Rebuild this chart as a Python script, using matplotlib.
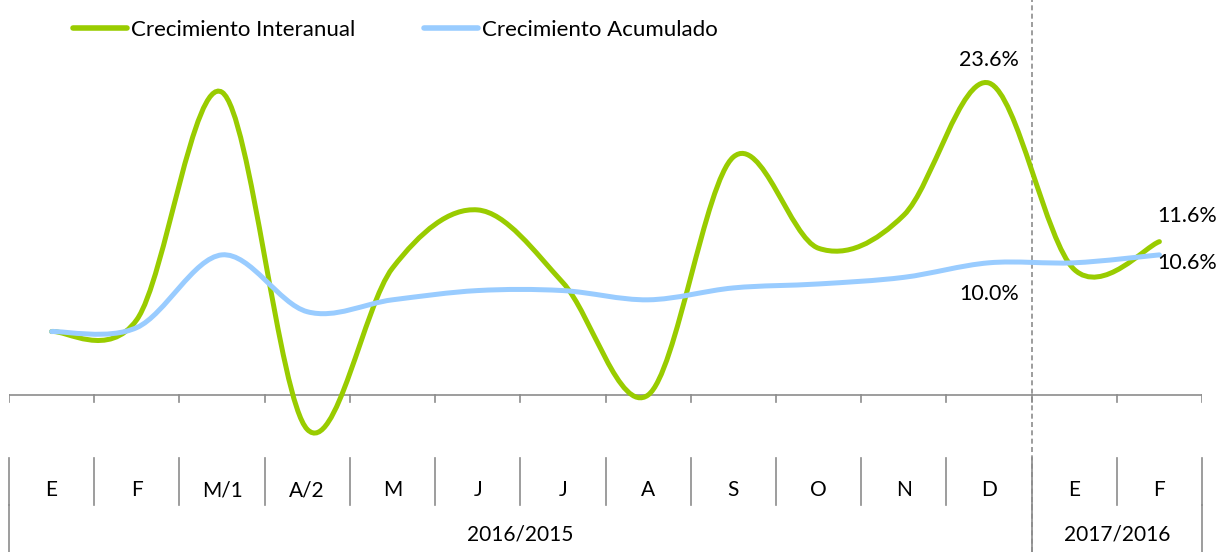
"""Crecimiento interanual vs acumulado, smoothed Excel-style lines."""

import numpy as np
import matplotlib
matplotlib.use("Agg")
import matplotlib.pyplot as plt
from matplotlib.path import Path
from matplotlib.patches import PathPatch
import matplotlib.lines as mlines

plt.rcParams["font.family"] = ["Lato", "DejaVu Sans"]

months = ["E", "F", "M/1", "A/2", "M", "J", "J", "A", "S", "O", "N", "D", "E", "F"]
groups = ["2016/2015", "2017/2016"]
group_sizes = [12, 2]
interanual = [4.8, 5.7, 22.9, -2.6, 9.6, 14.0, 8.5, 0.0, 18.0, 11.1, 13.6, 23.6, 9.5, 11.6]
acumulado = [4.8, 5.1, 10.6, 6.3, 7.2, 7.9, 7.9, 7.2, 8.1, 8.4, 8.9, 10.0, 10.0, 10.6]

GREEN = "#99CC00"
BLUE = "#99CCFF"
GREY = "#8C8C8C"


def smooth_path(xs, ys):
    """Catmull-Rom style Bezier path, like Excel's smoothed line."""
    pts = np.column_stack([xs, ys]).astype(float)
    ext = np.vstack([pts[0], pts, pts[-1]])
    verts = [pts[0]]
    codes = [Path.MOVETO]
    for i in range(len(pts) - 1):
        p0, p1, p2, p3 = ext[i], ext[i + 1], ext[i + 2], ext[i + 3]
        c1 = p1 + (p2 - p0) / 6
        c2 = p2 - (p3 - p1) / 6
        verts += [c1, c2, p2]
        codes += [Path.CURVE4] * 3
    return Path(verts, codes)


fig = plt.figure(figsize=(12.22, 5.52), dpi=100)
ax = fig.add_axes([9 / 1222, 0, 1193 / 1222, 1])
n = len(months)
x = np.arange(n)
ax.set_xlim(-0.5, n - 0.5)
ax.set_ylim(-157 / 13.22, 395 / 13.22)
ax.axis("off")

for ys, col in [(interanual, GREEN), (acumulado, BLUE)]:
    ax.add_patch(PathPatch(smooth_path(x, ys), facecolor="none", edgecolor=col,
                           lw=3.6, capstyle="round", zorder=3))

# category axis
ax.axhline(0, color=GREY, lw=1.2, zorder=1)
trans = ax.get_xaxis_transform()
bounds = np.arange(n + 1) - 0.5
for b in bounds:
    ax.plot([b, b], [0, -0.55], color=GREY, lw=1.2, zorder=1)
    ax.plot([b, b], [0.085, 0.170], color=GREY, lw=1.2, transform=trans, clip_on=False)
for i, m in enumerate(months):
    ax.text(i, 0.112, m, transform=trans, ha="center", va="center", fontsize=15)

start = 0
for g, size in zip(groups, group_sizes):
    ax.plot([start - 0.5, start - 0.5], [0, 0.085], color=GREY, lw=1.2,
            transform=trans, clip_on=False)
    ax.text(start + (size - 1) / 2, 0.031, g, transform=trans,
            ha="center", va="center", fontsize=15)
    start += size
ax.plot([n - 0.5, n - 0.5], [0, 0.085], color=GREY, lw=1.2, transform=trans, clip_on=False)

# divider between years
ax.axvline(11.5, color=GREY, lw=1.2, ls=(0, (3, 2)), zorder=2)

# data labels
labels = [
    (11, interanual[11], (0, 23)),
    (11, acumulado[11], (0, -31)),
    (13, interanual[13], (28, 26)),
    (13, acumulado[13], (28, -8)),
]
for xi, yv, off in labels:
    ax.annotate(f"{yv:.1f}%", (xi, yv), xytext=off, textcoords="offset pixels",
                ha="center", va="center", fontsize=15.5)

handles = [mlines.Line2D([], [], color=GREEN, lw=4, solid_capstyle="round"),
           mlines.Line2D([], [], color=BLUE, lw=4, solid_capstyle="round")]
fig.legend(handles, ["Crecimiento Interanual", "Crecimiento Acumulado"],
           loc="center left", bbox_to_anchor=(73 / 1222, 1 - 30 / 552), ncol=2,
           frameon=False, fontsize=16, handlelength=2.45, handletextpad=0.15,
           columnspacing=3.1, borderaxespad=0, borderpad=0)

fig.savefig("out.png", dpi=100)
